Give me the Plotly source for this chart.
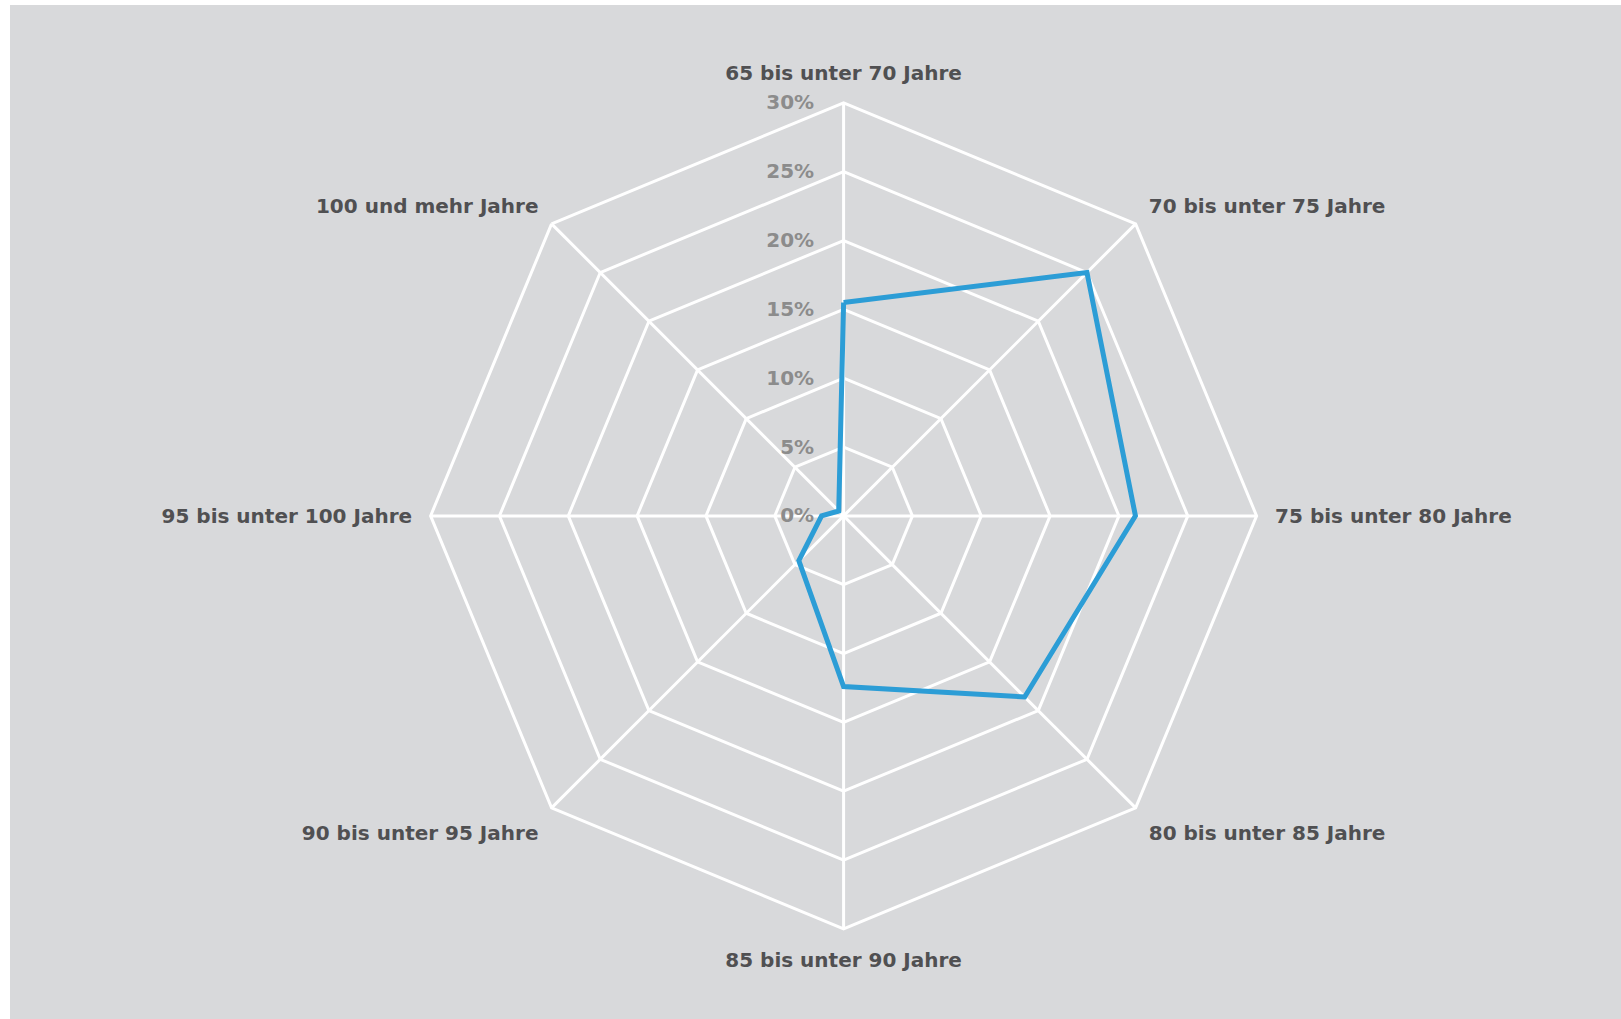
import plotly.graph_objects as go

categories = [
    "65 bis unter 70 Jahre",
    "70 bis unter 75 Jahre",
    "75 bis unter 80 Jahre",
    "80 bis unter 85 Jahre",
    "85 bis unter 90 Jahre",
    "90 bis unter 95 Jahre",
    "95 bis unter 100 Jahre",
    "100 und mehr Jahre",
]
values = [15.5, 25.0, 21.2, 18.6, 12.4, 4.6, 1.6, 0.5]
radial_ticks = [0, 5, 10, 15, 20, 25, 30]

W, H = 1621, 1019
cx, cy, R = 843.6, 515.9, 413.0

fig = go.Figure()
fig.add_trace(go.Scatterpolar(
    r=values + values[:1],
    theta=categories + categories[:1],
    mode="lines",
    line=dict(color="#2c9dd6", width=5),
    hoverinfo="skip",
    showlegend=False,
))

fig.update_layout(
    width=W, height=H,
    margin=dict(l=0, r=0, t=0, b=0),
    paper_bgcolor="white",
    shapes=[dict(type="rect", xref="paper", yref="paper",
                 x0=10 / W, x1=1.0, y0=0, y1=(H - 5) / H,
                 fillcolor="#d8d9db", line=dict(width=0), layer="below")],
    polar=dict(
        domain=dict(x=[(cx - R) / W, (cx + R) / W],
                    y=[(H - cy - R) / H, (H - cy + R) / H]),
        bgcolor="rgba(0,0,0,0)",
        gridshape="linear",
        angularaxis=dict(
            rotation=90, direction="clockwise",
            categoryorder="array", categoryarray=categories,
            gridcolor="white", gridwidth=3,
            showline=True, linecolor="white", linewidth=3,
            ticks="outside", ticklen=13, tickcolor="rgba(0,0,0,0)",
            tickfont=dict(family="DejaVu Sans", size=20, color="#505052", weight="bold"),
        ),
        radialaxis=dict(
            range=[0, 30], tickvals=radial_ticks,
            ticktext=[f"{v}%" for v in radial_ticks],
            angle=90, side="counterclockwise", tickangle=90,
            showline=False, gridcolor="white", gridwidth=3,
            ticks="outside", ticklen=22, tickcolor="rgba(0,0,0,0)",
            tickfont=dict(family="DejaVu Sans", size=20, color="#8c8c8c", weight="bold"),
        ),
    ),
)

fig.write_html(
    "out.html",
    config={"displayModeBar": False},
    post_script="document.body.style.margin='0';document.body.style.overflow='hidden';",
)
